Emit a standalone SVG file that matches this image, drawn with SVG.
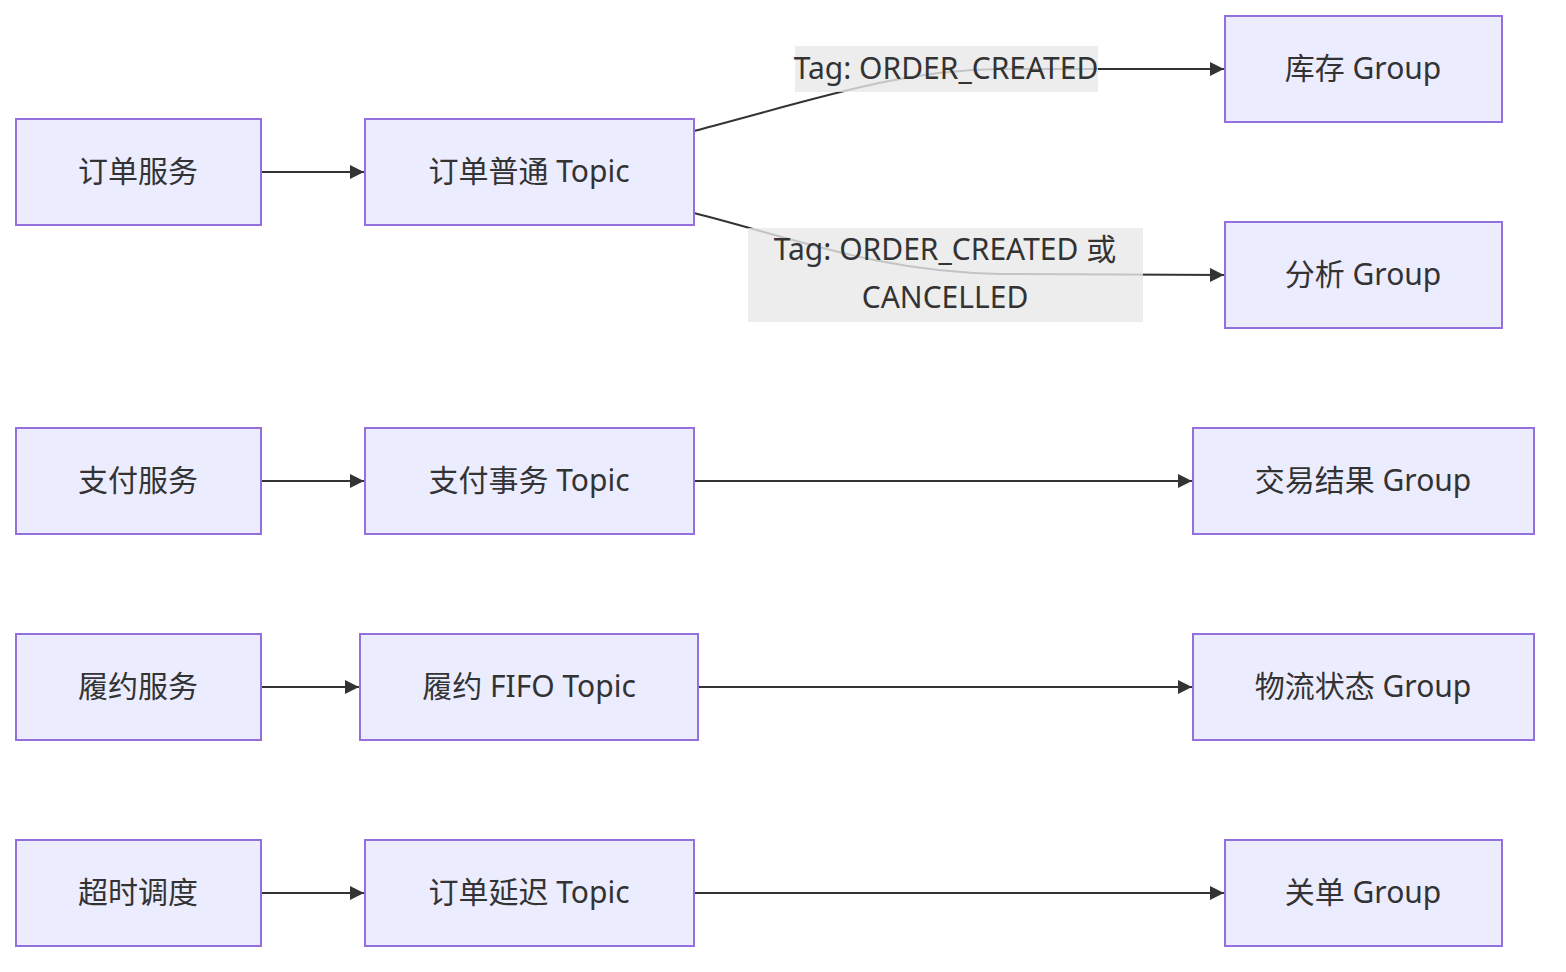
<svg xmlns="http://www.w3.org/2000/svg" width="1566" height="972" viewBox="0 0 1566 972">
<style>
.node rect{fill:#ECECFF;stroke:#9370DB;stroke-width:2}
text{font-family:"Noto Sans","Noto Sans CJK SC",sans-serif;font-size:30px;fill:#333;text-anchor:middle;dominant-baseline:central}
.edge{fill:none;stroke:#333;stroke-width:2}
.lbl{fill:#e8e8e8;fill-opacity:0.8}
</style>
<defs>
<marker id="arr" viewBox="0 0 14 14" refX="14" refY="7" markerWidth="14" markerHeight="14" markerUnits="userSpaceOnUse" orient="auto">
<path d="M0,0 L14,7 L0,14 z" fill="#333"/>
</marker>
</defs>
<rect width="1566" height="972" fill="#fff"/>
<g id="edges">
<path class="edge" d="M262,172 L364,172" marker-end="url(#arr)"/>
<path class="edge" d="M694,131 C820,98 900,70 1000,69 L1224,69" marker-end="url(#arr)"/>
<path class="edge" d="M694,213 C800,240 880,272 1000,274 L1224,275" marker-end="url(#arr)"/>
<path class="edge" d="M262,481 L364,481" marker-end="url(#arr)"/>
<path class="edge" d="M694,481 L1192,481" marker-end="url(#arr)"/>
<path class="edge" d="M262,687 L359,687" marker-end="url(#arr)"/>
<path class="edge" d="M698,687 L1192,687" marker-end="url(#arr)"/>
<path class="edge" d="M262,893 L364,893" marker-end="url(#arr)"/>
<path class="edge" d="M694,893 L1224,893" marker-end="url(#arr)"/>
</g>
<g id="edge-labels">
<rect class="lbl" x="795" y="46" width="303" height="46"/>
<text x="946" y="67">Tag: ORDER_CREATED</text>
<rect class="lbl" x="748" y="228" width="395" height="94"/>
<text x="945" y="248">Tag: ORDER_CREATED 或</text>
<text x="945" y="296">CANCELLED</text>
</g>
<g id="n1" class="node"><rect x="16" y="119" width="245" height="106"/><text x="138" y="170">订单服务</text></g>
<g id="n2" class="node"><rect x="365" y="119" width="329" height="106"/><text x="529" y="170">订单普通 Topic</text></g>
<g id="n3" class="node"><rect x="1225" y="16" width="277" height="106"/><text x="1363" y="67">库存 Group</text></g>
<g id="n4" class="node"><rect x="1225" y="222" width="277" height="106"/><text x="1363" y="273">分析 Group</text></g>
<g id="n5" class="node"><rect x="16" y="428" width="245" height="106"/><text x="138" y="479">支付服务</text></g>
<g id="n6" class="node"><rect x="365" y="428" width="329" height="106"/><text x="529" y="479">支付事务 Topic</text></g>
<g id="n7" class="node"><rect x="1193" y="428" width="341" height="106"/><text x="1363" y="479">交易结果 Group</text></g>
<g id="n8" class="node"><rect x="16" y="634" width="245" height="106"/><text x="138" y="685">履约服务</text></g>
<g id="n9" class="node"><rect x="360" y="634" width="338" height="106"/><text x="529" y="685">履约 FIFO Topic</text></g>
<g id="n10" class="node"><rect x="1193" y="634" width="341" height="106"/><text x="1363" y="685">物流状态 Group</text></g>
<g id="n11" class="node"><rect x="16" y="840" width="245" height="106"/><text x="138" y="891">超时调度</text></g>
<g id="n12" class="node"><rect x="365" y="840" width="329" height="106"/><text x="529" y="891">订单延迟 Topic</text></g>
<g id="n13" class="node"><rect x="1225" y="840" width="277" height="106"/><text x="1363" y="891">关单 Group</text></g>
</svg>
